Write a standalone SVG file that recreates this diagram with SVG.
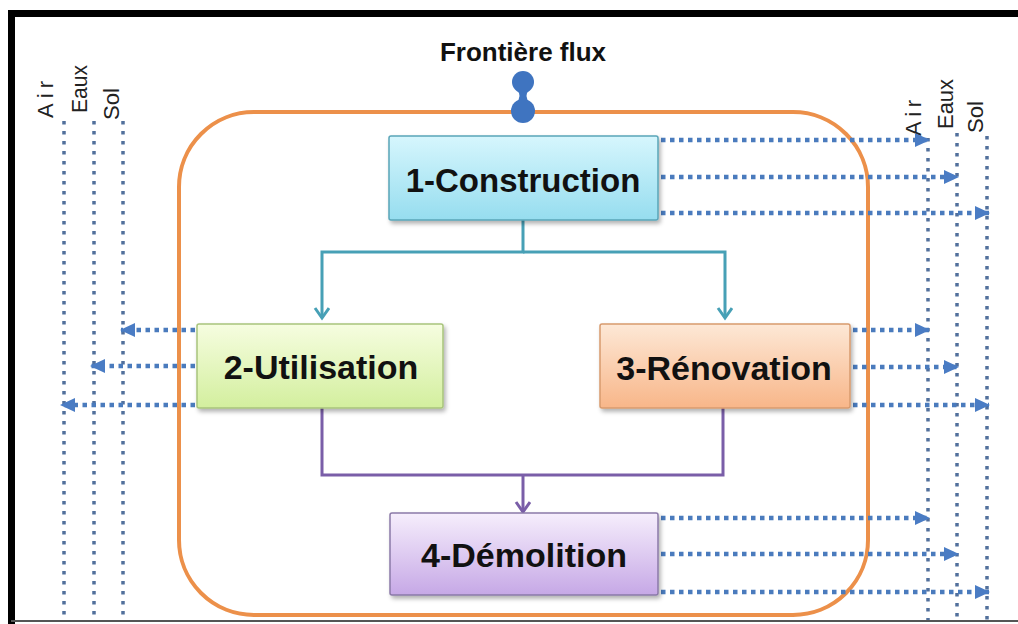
<svg xmlns="http://www.w3.org/2000/svg" width="1018" height="624" viewBox="0 0 1018 624">
<defs>
<style>
.lbl{font-family:"Liberation Sans",Arial,sans-serif;font-weight:bold;fill:#111;text-anchor:middle}
.side{font-family:"Liberation Sans",Arial,sans-serif;font-size:22px;fill:#222}
.vline{stroke:#52709c;stroke-width:3.5;stroke-dasharray:3.5 6.5;fill:none}
.hflow{stroke:#4a7bbd;stroke-width:4.5;stroke-dasharray:4.5 4.5;fill:none;marker-end:url(#tri)}
.teal{stroke:#47a0b6;stroke-width:3;fill:none}
.purp{stroke:#7a5ea8;stroke-width:3;fill:none}
</style>
<linearGradient id="g1" x1="0" y1="0" x2="0" y2="1"><stop offset="0" stop-color="#d6f6fd"/><stop offset="1" stop-color="#96ddef"/></linearGradient>
<linearGradient id="g2" x1="0" y1="0" x2="0" y2="1"><stop offset="0" stop-color="#f6fde0"/><stop offset="1" stop-color="#d3ef9e"/></linearGradient>
<linearGradient id="g3" x1="0" y1="0" x2="0" y2="1"><stop offset="0" stop-color="#fde8d6"/><stop offset="1" stop-color="#f8b689"/></linearGradient>
<linearGradient id="g4" x1="0" y1="0" x2="0" y2="1"><stop offset="0" stop-color="#f6eefc"/><stop offset="1" stop-color="#c6a8e6"/></linearGradient>
<filter id="sh" x="-10%" y="-10%" width="130%" height="140%"><feDropShadow dx="2" dy="3" stdDeviation="2" flood-color="#000" flood-opacity="0.3"/></filter>
<marker id="tri" markerUnits="userSpaceOnUse" markerWidth="16" markerHeight="16" refX="14" refY="7" orient="auto"><path d="M0,0 L15,7 L0,14 z" fill="#4a7cc4"/></marker>
<marker id="chevT" markerUnits="userSpaceOnUse" markerWidth="20" markerHeight="20" refX="11" refY="8" orient="auto"><path d="M1,1 L11,8 L1,15" fill="none" stroke="#47a0b6" stroke-width="3"/></marker>
<marker id="chevP" markerUnits="userSpaceOnUse" markerWidth="20" markerHeight="20" refX="11" refY="8" orient="auto"><path d="M1,1 L11,8 L1,15" fill="none" stroke="#7a5ea8" stroke-width="3"/></marker>
</defs>
<rect x="0" y="0" width="1018" height="624" fill="#fff"/>
<!-- frame -->
<path d="M11.5,624 V13.5 H1018" fill="none" stroke="#000" stroke-width="7"/>
<line x1="11" y1="621" x2="1018" y2="621" stroke="#555" stroke-width="2"/>

<!-- boundary -->
<g id="boundary">
<rect x="179" y="112" width="689" height="503" rx="75" ry="75" fill="none" stroke="#ec904a" stroke-width="4"/>
</g>

<!-- side compartments -->
<g id="left-compartments">
<line class="vline" x1="64" y1="121" x2="64" y2="620"/>
<line class="vline" x1="94" y1="121" x2="94" y2="620"/>
<line class="vline" x1="123" y1="121" x2="123" y2="620"/>
<text class="side" transform="translate(53,118) rotate(-90)" textLength="37" lengthAdjust="spacing">Air</text>
<text class="side" transform="translate(87,113) rotate(-90)" textLength="48" lengthAdjust="spacingAndGlyphs">Eaux</text>
<text class="side" transform="translate(119,120) rotate(-90)" textLength="32" lengthAdjust="spacingAndGlyphs">Sol</text>
</g>
<g id="right-compartments">
<line class="vline" x1="928" y1="138" x2="928" y2="620"/>
<line class="vline" x1="957" y1="133" x2="957" y2="620"/>
<line class="vline" x1="987" y1="136" x2="987" y2="620"/>
<text class="side" transform="translate(921,136) rotate(-90)" textLength="36" lengthAdjust="spacing">Air</text>
<text class="side" transform="translate(953,129) rotate(-90)" textLength="50" lengthAdjust="spacingAndGlyphs">Eaux</text>
<text class="side" transform="translate(983,133) rotate(-90)" textLength="32" lengthAdjust="spacingAndGlyphs">Sol</text>
</g>

<!-- frontier flux -->
<g id="frontiere">
<text class="lbl" x="523" y="61" font-size="26">Frontière flux</text>
<circle cx="523" cy="82" r="11" fill="#3f74c0"/>
<circle cx="523" cy="111" r="12" fill="#3f74c0"/>
<path d="M516,89 Q523,96 516,103 L530,103 Q523,96 530,89 z" fill="#3f74c0"/>
</g>

<!-- connectors -->
<g id="connectors">
<path class="teal" d="M523,220 V252 H322 V318" marker-end="url(#chevT)"/>
<path class="teal" d="M523,252 H725 V318" marker-end="url(#chevT)"/>
<path class="purp" d="M322,408 V475 H723 V408"/>
<path class="purp" d="M523,475 V512" marker-end="url(#chevP)"/>
<!-- flows -->
<line class="hflow" x1="661" y1="140" x2="929" y2="140"/>
<line class="hflow" x1="661" y1="177" x2="958" y2="177"/>
<line class="hflow" x1="661" y1="213" x2="989" y2="213"/>
<line class="hflow" x1="853" y1="330" x2="929" y2="330"/>
<line class="hflow" x1="853" y1="367" x2="958" y2="367"/>
<line class="hflow" x1="853" y1="405" x2="989" y2="405"/>
<line class="hflow" x1="661" y1="518" x2="929" y2="518"/>
<line class="hflow" x1="661" y1="554" x2="958" y2="554"/>
<line class="hflow" x1="661" y1="592" x2="989" y2="592"/>
<line class="hflow" x1="195" y1="330" x2="121" y2="330"/>
<line class="hflow" x1="195" y1="366" x2="91" y2="366"/>
<line class="hflow" x1="195" y1="405" x2="61" y2="405"/>
</g>

<!-- nodes -->
<g id="n1">
<rect x="389" y="136" width="269" height="84" rx="2" fill="url(#g1)" stroke="#5aa5b8" stroke-width="1.5" filter="url(#sh)"/>
<text class="lbl" x="523" y="192" font-size="33">1-Construction</text>
</g>
<g id="n2">
<rect x="197" y="324" width="246" height="84" rx="2" fill="url(#g2)" stroke="#a8c47c" stroke-width="1.5" filter="url(#sh)"/>
<text class="lbl" x="321" y="379" font-size="34">2-Utilisation</text>
</g>
<g id="n3">
<rect x="600" y="324" width="250" height="84" rx="2" fill="url(#g3)" stroke="#d79a6e" stroke-width="1.5" filter="url(#sh)"/>
<text class="lbl" x="724" y="380" font-size="34">3-Rénovation</text>
</g>
<g id="n4">
<rect x="390" y="513" width="268" height="82" rx="2" fill="url(#g4)" stroke="#8b79a8" stroke-width="1.5" filter="url(#sh)"/>
<text class="lbl" x="524" y="567" font-size="34">4-Démolition</text>
</g>
</svg>
